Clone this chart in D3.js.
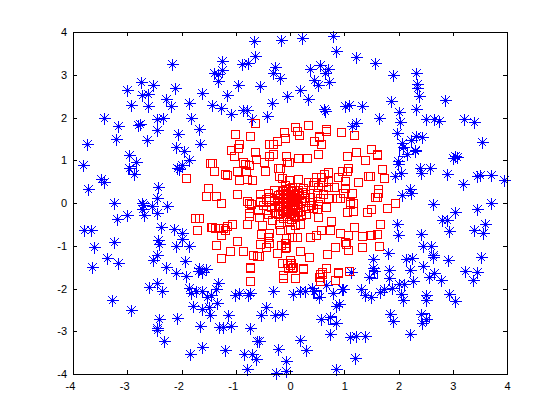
<!DOCTYPE html>
<html>
<head>
<meta charset="utf-8">
<style>
  html, body { margin: 0; padding: 0; background: #fff; }
  svg { display: block; }
  .tick text { font-family: "Liberation Sans", sans-serif; font-size: 11px; fill: #000; }
</style>
<script src="https://cdnjs.cloudflare.com/ajax/libs/d3/7.8.5/d3.min.js"></script>
</head>
<body>
<div id="chart"></div>
<script>
// tick labels on both axes
const xTicks = [-4, -3, -2, -1, 0, 1, 2, 3, 4]
const yTicks = [-4, -3, -2, -1, 0, 1, 2, 3, 4]

// outer class, drawn as stars: [x, y]
const blueStars = [
  [-2.17,3.24],[-2.75,2.82],[-2.53,2.75],[-3.0,2.64],[-2.12,2.68],[-2.73,2.53],[-2.61,2.54],[-1.63,2.57],
  [-2.28,2.43],[-2.94,2.29],[-2.62,2.27],[-2.19,2.27],[-1.86,2.33],[-3.43,2.0],[-1.82,2.0],[-2.46,1.96],
  [-2.35,1.98],[-3.17,1.79],[-2.80,1.82],[-2.77,1.84],[-2.45,1.70],[-1.68,1.72],[-2.07,1.61],[-3.2,1.49],
  [-2.64,1.47],[-3.74,1.37],[-1.65,1.38],[-2.11,1.30],[-1.95,1.22],[-2.96,1.13],
  [-2.84,.96],[-2.97,.81],[-2.87,.67],[-3.82,.89],[-3.49,.55],[-3.43,.49],[-3.72,.32],[-1.86,1.0],
  [-2.0,.89],[-2.08,.81],[-2.05,.80],[-2.43,.38],[-2.45,.11],[-3.24,0],[-2.72,.01],[-2.71,-.05],
  [-2.72,-.15],[-2.54,-.07],[-2.27,-.07],[-2.46,-.23],[-2.69,-.29],[-3.0,-.28],[-3.19,-.37],[-2.38,-.57],
  [-2.13,-.60],[-1.99,-.71],[-3.80,-.63],[-3.66,-.63],[-2.43,-.87],[-2.0,-.85],[-3.25,-.92],[-2.41,-.97],
  [-2.11,-1.0],[-1.86,-1.0],[-3.61,-1.03],[-2.46,-1.22],[-2.53,-1.33],[-3.37,-1.28],[-3.17,-1.41],[-1.94,-1.36],
  [-2.28,-1.49],[-3.65,-1.5],[-1.68,-1.53],[-1.54,-1.55],
  [-2.11,-1.64],[-1.92,-1.70],[-1.70,-1.59],[-1.63,-1.62],[-2.59,-1.96],[-2.45,-1.88],[-2.36,-2.05],[-1.86,-1.99],
  [-1.82,-2.10],[-1.73,-2.07],[-1.62,-2.05],[-1.53,-2.2],[-1.45,-2.16],[-1.36,-2.01],[-1.33,-1.87],[-1.34,-2.34],
  [-3.28,-2.28],[-2.93,-2.50],[-1.79,-2.41],[-1.63,-2.49],[-1.5,-2.44],[-1.47,-2.63],[-2.41,-2.71],[-2.08,-2.70],
  [-1.65,-2.87],[-2.46,-2.93],[-2.45,-2.96],[-2.32,-3.23],[-1.62,-3.36],[-1.84,-3.54],[-1.3,-2.9],
  [-1.14,-2.62],[-1.24,-2.89],[-1.09,-2.87],[-1.2,-3.43],[-1.02,-2.16],[-.94,-2.10],[-.77,-2.16],[-.74,-2.11],
  [-.31,-2.05],[-.45,-2.43],[-.54,-2.61],[-.28,-2.62],[-.14,-2.59],[-.73,-2.92],[-.60,-3.22],[-.58,-3.22],
  [-.22,-3.41],[-.84,-3.53],[-.70,-3.53],[-.62,-3.65],[-.80,-3.88],[-.07,-3.70],[-.07,-3.93],[-.26,-3.98],
  [.06,-2.14],[.18,-2.07],[.27,-2.07],[.41,-1.99],[.45,-2.05],[.53,-2.2],[.67,-1.91],[.79,-2.1],[.95,-2.01],
  [.98,-2.02],[.84,-2.40],[.90,-2.36],[.57,-2.71],[.73,-2.66],[.84,-2.80],[.74,-3.06],[.18,-3.2],[.29,-3.43],
  [1.10,-3.14],[1.21,-3.10],[1.38,-3.12],[1.20,-3.62],[.85,-3.89],[1.12,-1.62],[1.45,-1.72],[1.30,-2.01],
  [1.38,-2.15],[1.49,-2.2],
  [1.55,-1.58],[1.83,-1.56],[2.22,-1.56],[2.45,-1.48],[1.83,-1.76],[2.57,-1.73],[2.66,-1.63],[2.79,-1.79],
  [3.22,-1.60],[3.45,-1.62],[3.38,-1.79],[2.27,-1.83],[2.01,-1.89],[2.10,-1.89],[1.66,-2.09],[1.73,-2.02],
  [1.88,-1.99],[2.05,-2.12],[2.09,-2.28],[2.5,-2.15],[2.5,-2.26],[2.93,-2.12],[3.05,-2.30],[1.85,-2.60],
  [1.89,-2.75],[2.41,-2.59],[2.5,-2.72],[2.43,-2.81],[2.22,-3.06],
  [1.99,.98],[1.99,.91],[2.15,1.15],[2.3,1.22],[2.39,.81],[2.42,.71],[2.58,.81],[2.04,.71],[1.93,.62],
  [2.9,.69],[3.01,1.06],[3.07,1.08],[3.44,.62],[3.51,.65],[3.7,.65],[3.19,.44],[3.95,.53],[2.21,.33],
  [2.07,.18],[2.23,.24],[2.64,-.03],[3.71,.01],[3.45,-.15],[3.04,-.21],[2.8,-.4],[2.9,-.4],[3.59,-.48],
  [1.98,-.49],[2.93,-.65],[3.39,-.63],[3.55,-.71],[1.99,-.74],[2.42,-.73],[2.45,-1.0],[2.59,-1.0],[1.81,-1.18],
  [2.64,-1.22],[2.64,-1.26],[2.13,-1.31],[2.25,-1.29],[2.92,-1.34],[3.52,-1.26],[1.53,-1.31],[1.53,-1.53],
  [1.22,3.42],[1.57,3.27],[1.90,3.0],[2.33,3.03],[2.34,2.79],[2.34,2.68],[2.37,2.51],[2.86,2.40],[1.86,2.39],
  [1.01,2.27],[1.09,2.29],[1.33,2.27],[2.32,2.21],[2.01,2.12],[1.64,1.98],[2.03,1.89],[2.51,1.96],[2.66,1.97],
  [2.74,1.91],[3.21,1.96],[3.40,1.90],[1.22,1.87],[1.15,1.79],[1.97,1.63],[2.33,1.57],[2.44,1.54],[2.23,1.47],
  [2.06,1.40],[2.09,1.30],[2.31,1.23],[3.53,1.43],[3.04,1.11],
  [-.66,3.79],[-.17,3.81],[.22,3.85],[.79,3.90],[.84,3.56],[-.65,3.45],[-1.25,3.31],[-.89,3.25],[-.77,3.28],
  [-1.40,3.03],[-1.33,3.02],[-1.25,3.10],[-1.33,2.85],[-.28,3.19],[-.31,3.05],[-.18,2.92],[-.96,2.75],[-.55,2.74],
  [.37,3.13],[.55,3.23],[.70,3.13],[.65,3.03],[.44,2.88],[.72,2.84],[.51,2.75],[.18,2.64],[-1.16,2.53],
  [-.06,2.50],[.33,2.43],[-1.44,2.29],[-1.27,2.23],[-1.09,2.09],[-.33,2.33],[-.87,2.17],[-.79,2.17],[-.70,1.96],
  [-.42,2.03],[.63,2.21],[.65,2.16]
]

// misclassified points in the outer ring, blue squares
const blueSquares = [[-2.91,.77],[.77,-2.73],[.49,-2.12],[1.53,-1.66],[2.49,-2.67],[2.09,1.2]]

// inner class, red squares
const redSquares = [
  [-.64,1.86],[.33,1.82],[.09,1.77],[.13,1.68],[.17,1.58],[-.11,1.65],[-.10,1.51],[-1.01,1.61],[-.74,1.56],
  [.66,1.72],[.94,1.65],[.53,1.55],[.44,1.44],[.57,1.37],[-.24,1.44],[-.32,1.37],[-.39,1.37],[-.94,1.37],
  [-.96,1.28],[-1.09,1.23],[-.64,1.19],[-.32,1.15],[-.39,1.10],[-.07,1.11],[.52,1.14],[1.05,1.10],[-1.03,1.09],
  [.15,1.05],[.31,1.05],[1.18,1.59],[1.49,1.26],[1.22,1.19],[1.6,1.12],
  [-.63,1.04],[-.83,.92],[-.76,.90],[-.87,.97],[-.48,.95],[-1.43,.93],[-1.40,.74],[-1.19,.67],[-1.17,.66],[-.98,.74],
  [-.82,.74],[-.94,.54],[-.79,.55],[-.70,.53],[-.46,.74],[-.22,.81],[-.19,.83],[-.21,.62],[-.15,.59],[-.06,.95],
  [-1.52,.34],[-1.55,.16],[-1.36,.16],[-1.27,0],[-.98,.20],[-.80,.04],[-.56,.20],[-.41,.23],[-.56,.04],[-.39,.04],
  [-.71,-.02],[-.24,.04],[-.14,.30],[-.1,.42],[-.22,.19],
  [.54,1.56],[.67,1.68],[1.38,1.0],[-.02,.95],[1.07,.81],[.96,.74],[1.05,.74],[.70,.72],[.63,.67],[.48,.60],[.57,.60],
  [.89,.60],[1.44,.62],[1.26,.48],[1.02,.51],[1.02,.34],[1.14,.23],[.70,.51],[.61,.48],[.44,.48],[.33,.48],[.15,.55],
  [-.02,.53],[.82,.37],[.70,.37],[.52,.37],[.43,.41],[.98,.23],[.92,.11],[1.10,.03],[1.16,-.01],[.86,.11],[.70,.11],
  [.55,.11],[.49,.23],[.36,.15],[.27,.07],[.24,.34],[.15,.30],[.03,.38],[1.56,.15],
  [.27,-.07],[.39,-.05],[.52,-.02],[.67,-.09],[1.10,-.02],[1.05,-.20],[1.16,-.18],[1.42,-.21],[.52,-.32],[.30,-.26],
  [.21,-.28],[.09,-.28],[.18,-.48],[.09,-.51],[0,-.6],[.76,-.41],[.74,-.62],[.57,-.64],[.48,-.76],[.37,-.80],[.92,-.71],
  [1.07,-.76],[1.18,-.57],[1.33,-.78],[1.47,-.76],[1.02,-.92],[1.03,-.97],[.83,-1.04],[1.07,-1.11],[1.33,-1.04],[.68,-1.20],
  [.35,-1.27],[.19,-1.13],[0,-1.33],[.01,-1.41],[0,-1.45],[.24,-1.53],[.06,-1.49],[.66,-1.51],[.59,-1.61],[.55,-1.66],
  [.89,-1.61],[-.07,-.83],[.03,-.80],[.12,-.80],[-.07,-.94],[-.1,-1.06],
  [-.76,0],[-.76,-.24],[-.76,-.30],[-.59,-.16],[-.57,-.32],[-.44,-.16],[-.41,-.26],[-.28,-.24],[-.19,-.24],[-.79,-.50],
  [-.52,-.51],[-1.07,-.50],[-1.44,-.57],[-1.38,-.58],[-1.33,-.59],[-1.24,-.59],[-1.17,-.54],[-1.2,-.62],[-1.28,-.76],
  [-1.36,-.98],[-.98,-.90],[-1.11,-1.13],[-.87,-1.13],[-1.27,-1.29],[-.68,-1.22],[-.61,-1.24],[-.57,-1.24],[-.74,-1.50],
  [-.53,-.73],[-.39,-.71],[-.41,-.79],[-.55,-.97],[-.39,-.94],[-.45,-1.04],[-.24,-1.18],[-.15,-1.41],[-.06,-1.41],[-.04,-1.53],
  [-.13,-1.68],[-.16,-.98],[-.10,-.94],[-.08,-1.02],[-.19,-.63],[-.21,-.48],[-.34,-.40],
  [-.73,-1.52],[-.73,-1.82],[-.13,-1.75],[.09,-1.75],[.04,-1.52],[.24,-1.54],[.67,-1.52],[.88,-1.63],[.59,-1.66],
  [.54,-1.72],[.56,-1.83],[.83,-1.80],[1.08,-1.59],
  [1.61,1.14],[1.70,.79],[1.74,.58],[1.47,.63],[1.63,.32],[1.63,.24],[1.61,.13],[1.94,-.01],[1.79,-.12],[1.50,-.15],
  [1.66,-.49],[1.61,-.73],[1.50,-.76],[1.64,-1.01],
  [-1.92,.58],[-1.52,.34],[-1.54,.16],[-1.75,-.36],[-1.68,-.36],[-1.71,-.64],[-1.45,-.57],[-1.48,.93],
  // dense middle, estimated
  [-.2,.12],[-.18,.2],[-.15,.05],[-.12,.28],[-.12,.15],[-.1,.02],[-.1,.22],[-.08,.32],[-.08,.1],[-.05,.18],[-.05,.04],
  [-.03,.27],[-.03,.12],[0,.35],[0,.2],[0,.08],[0,-.02],[.02,.28],[.02,.14],[.03,.02],[.05,.22],[.05,.08],[.07,.3],
  [.07,-.03],[.09,.15],[.1,.02],[.12,.24],[.12,.1],[.14,-.04],[.17,.18],[.2,.05],[.22,.25],[.25,.12],[.28,.2],
  [-.22,-.05],[-.18,-.1],[-.15,-.18],[-.12,-.08],[-.1,-.22],[-.08,-.14],[-.05,-.06],[-.05,-.3],[-.03,-.18],[0,-.1],
  [0,-.24],[.02,-.38],[.04,-.16],[.06,-.08],[.08,-.3],[.1,-.14],[.12,-.22],[.15,-.1],[.18,-.18],[-.02,-.45],[-.12,-.35],[-.22,-.25],
  [-.45,.1],[-.5,-.05],[-.35,-.1],[-.3,.08],[.35,.02],[.42,-.12],[.33,-.12],[.6,.2],[.5,-.15],[-.3,.3],[-.38,.15]
]

const width = 560, height = 420
const margin = { top: 32, right: 53, bottom: 46, left: 73 }

const x = d3.scaleLinear().domain([-4, 4]).range([margin.left, width - margin.right])
const y = d3.scaleLinear().domain([-4, 4]).range([height - margin.bottom, margin.top])

const svg = d3.select('#chart').append('svg').attr('width', width).attr('height', height)

// crisp, gnuplot style markers
const starPath = 'M-6,0H6M0,-6V6M-4,-4L4,4M-4,4L4,-4'
const squarePath = 'M-4,-4H4V4H-4Z'
const place = d => `translate(${Math.round(x(d[0])) + 0.5},${Math.round(y(d[1])) + 0.5})`

const marks = svg.append('g')

marks.selectAll('path.star').data(blueStars).join('path')
  .attr('class', 'star')
  .attr('transform', place)
  .attr('d', starPath)
  .attr('fill', 'none')
  .attr('stroke', '#0000ff')
  .attr('shape-rendering', 'crispEdges')

// the blob in the centre of each star
marks.selectAll('circle.hub').data(blueStars).join('circle')
  .attr('class', 'hub')
  .attr('transform', place)
  .attr('r', 2)
  .attr('fill', '#0000ff')

marks.selectAll('path.bsq').data(blueSquares).join('path')
  .attr('class', 'bsq')
  .attr('transform', place)
  .attr('d', squarePath)
  .attr('fill', 'none')
  .attr('stroke', '#0000ff')
  .attr('shape-rendering', 'crispEdges')

marks.selectAll('path.rsq').data(redSquares).join('path')
  .attr('class', 'rsq')
  .attr('transform', place)
  .attr('d', squarePath)
  .attr('fill', 'none')
  .attr('stroke', '#ff0000')
  .attr('shape-rendering', 'crispEdges')

// box with inward ticks on all four sides
const tickLen = 4
const axisBottom = d3.axisBottom(x).tickValues(xTicks).tickSize(-tickLen).tickPadding(8).tickFormat(d3.format('d'))
const axisLeft = d3.axisLeft(y).tickValues(yTicks).tickSize(-tickLen).tickPadding(6).tickFormat(d3.format('d'))
const axisTop = d3.axisTop(x).tickValues(xTicks).tickSize(-tickLen).tickFormat('')
const axisRight = d3.axisRight(y).tickValues(yTicks).tickSize(-tickLen).tickFormat('')

const axes = [
  [axisBottom, 0, height - margin.bottom],
  [axisLeft, margin.left, 0],
  [axisTop, 0, margin.top],
  [axisRight, width - margin.right, 0]
]
const axisGroups = axes.map(([ax, tx, ty]) => {
  const g = svg.append('g').attr('transform', `translate(${tx},${ty})`).call(ax)
  g.selectAll('.domain, line').attr('stroke', '#000').attr('shape-rendering', 'crispEdges')
  return g
})
// plain hyphen for negatives, and the digit (not the whole label) sits under the x tick
svg.selectAll('.tick text').text(function () { return d3.select(this).text().replace('−', '-') })
axisGroups[0].selectAll('.tick text').attr('dx', d => d < 0 ? -3 : 0)
</script>
</body>
</html>
